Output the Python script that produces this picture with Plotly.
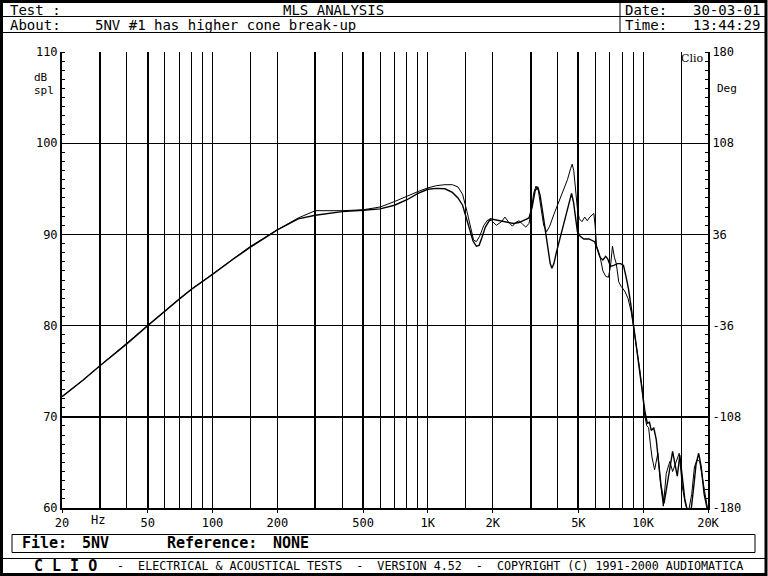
import plotly.graph_objects as go

# ---------------- data ----------------
freq_a = [20, 25, 30, 40, 50, 60, 70, 80, 100, 125, 150, 200, 250, 300, 400, 500, 600, 700, 800, 900,
          1000, 1100, 1200, 1300, 1380, 1450, 1520, 1580, 1630, 1680, 1740, 1820, 1900, 1980, 2080, 2200,
          2280, 2380, 2470, 2560, 2650, 2760, 2850, 2950, 3020, 3100, 3180, 3260, 3360, 3450, 3560, 3680,
          3850, 4050, 4250, 4450, 4600, 4680, 4760, 4850, 4950, 5050, 5200, 5350, 5500, 5650, 5800, 5900,
          5980, 6080, 6300, 6500, 6700, 6900, 7050, 7200, 7350, 7500, 7700, 7900, 8200, 8500, 8800, 9000,
          9300, 9600, 9900, 10150, 10400, 10600, 10800, 11000, 11300, 11700, 12000, 12400, 12800, 13300,
          13700, 14200, 14700, 15200, 15700, 16200, 16800, 17300, 17800, 18300, 18800, 19400, 20000]
spl_a = [72.2, 74.0, 75.6, 78.1, 80.0, 81.6, 82.9, 84.0, 85.7, 87.4, 88.7, 90.5, 91.8, 92.6, 92.6, 92.7,
         93.0, 93.6, 94.2, 94.7, 95.1, 95.35, 95.45, 95.45, 95.2, 94.4, 92.5, 90.6, 89.4, 89.2, 89.8, 91.0,
         91.6, 91.5, 91.0, 91.4, 91.9, 91.3, 90.9, 91.3, 91.5, 91.1, 90.8, 91.2, 92.5, 94.5, 95.3, 94.8,
         93.0, 91.0, 90.3, 90.9, 92.2, 93.5, 94.8, 96.0, 97.2, 97.7, 97.0, 95.0, 92.8, 91.7, 91.4, 91.9,
         91.5, 91.9, 92.1, 92.3, 91.0, 88.7, 87.6, 86.0, 85.4, 85.3, 86.5, 88.7, 87.5, 86.8, 84.8, 84.3,
         83.8, 83.0, 81.5, 80.0, 77.8, 75.5, 73.0, 70.2, 69.0, 68.8, 67.0, 65.5, 64.2, 66.0, 63.0, 60.2,
         63.8, 65.1, 64.0, 65.0, 66.0, 62.3, 60.5, 59.5, 61.5, 64.5, 65.3, 65.1, 63.4, 61.0, 59.6]

freq_b = [20, 25, 30, 40, 50, 60, 70, 80, 100, 125, 150, 200, 250, 300, 400, 500, 600, 700, 800, 900,
          1000, 1100, 1200, 1300, 1380, 1450, 1500, 1560, 1620, 1680, 1730, 1780, 1850, 1950, 2050, 2200,
          2350, 2500, 2650, 2800, 2950, 3050, 3150, 3240, 3320, 3420, 3520, 3620, 3700, 3770, 3850, 3950,
          4100, 4250, 4400, 4550, 4650, 4750, 4850, 4950, 5100, 5300, 5600, 5800, 5950, 6100, 6300, 6500,
          6700, 6850, 7050, 7300, 7600, 7850, 8100, 8300, 8550, 8800, 9050, 9300, 9600, 9900, 10200, 10450,
          10700, 10900, 11200, 11500, 11800, 12100, 12500, 12900, 13300, 13700, 14000, 14400, 14800, 15200,
          15600, 16100, 16700, 17200, 17600, 18100, 18600, 19200, 19700, 20000]
spl_b = [72.2, 74.0, 75.6, 78.0, 80.0, 81.6, 82.9, 84.0, 85.6, 87.3, 88.6, 90.5, 91.7, 92.1, 92.5, 92.65,
         92.8, 93.2, 93.8, 94.5, 94.95, 95.05, 95.0, 94.6, 94.0, 93.2, 92.0, 90.5, 89.3, 88.7, 88.8, 89.6,
         90.8, 91.7, 91.6, 91.4, 91.3, 91.2, 91.3, 91.6, 91.8, 93.0, 94.8, 95.2, 94.3, 92.3, 90.2, 88.0,
         86.8, 86.3, 86.8, 88.0, 89.5, 91.0, 92.5, 93.8, 94.5, 93.5, 91.5, 90.3, 89.8, 89.5, 89.5, 89.3,
         89.2, 88.5, 87.5, 87.2, 87.6, 87.3, 86.5, 86.6, 86.8, 86.8, 86.6, 85.5, 84.0, 82.0, 79.8, 77.5,
         74.8, 72.5, 70.5, 69.3, 69.4, 68.5, 68.8, 67.5, 64.5, 62.5, 60.5, 62.5, 64.8, 66.2, 65.0, 63.5,
         65.8, 63.5, 61.0, 59.5, 59.8, 62.5, 64.8, 66.0, 64.5, 61.5, 60.0, 59.5]

grid_thin_hz = [40, 60, 70, 80, 90, 100, 150, 200, 400, 600, 700, 800, 900, 1000, 1500, 2000,
                4000, 6000, 7000, 8000, 9000, 10000, 15000]
grid_thick_hz = [30, 50, 300, 500, 3000, 5000]
xtick_vals = [20, 50, 100, 200, 500, 1000, 2000, 5000, 10000, 20000]
xtick_text = ["20", "50", "100", "200", "500", "1K", "2K", "5K", "10K", "20K"]
ytick_vals = [60, 70, 80, 90, 100, 110]
ytick_text = ["60", "70", "80", "90", "100", "110"]
phase_vals = [-180, -108, -36, 36, 108, 180]
phase_text = ["-180", "-108", "-36", "36", "108", "180"]
thick_db = [70]

header_test = "MLS ANALYSIS"
header_about = "5NV #1 has higher cone break-up"
header_date = "30-03-01"
header_time = "13:44:29"
footer_file = "5NV"
footer_ref = "NONE"

# ---------------- geometry helpers ----------------
W, H = 768, 576
L, R, T, B = 62, 708, 52, 508


def px(x):
    return (x - L) / (R - L)


def py(y):
    return (B - y) / (B - T)


MONO = "DejaVu Sans Mono"
XR = [1.30103, 4.30103]

fig = go.Figure()
fig.add_trace(go.Scatter(x=freq_a, y=spl_a, mode="lines", line=dict(color="black", width=1.0),
                         hoverinfo="skip", showlegend=False))
fig.add_trace(go.Scatter(x=freq_b, y=spl_b, mode="lines", line=dict(color="black", width=1.4),
                         hoverinfo="skip", showlegend=False))
# invisible traces to activate overlay axes
fig.add_trace(go.Scatter(x=[1000], y=[0], xaxis="x2", yaxis="y2", mode="markers",
                         marker=dict(opacity=0), hoverinfo="skip", showlegend=False))
fig.add_trace(go.Scatter(x=[1000], y=[80], xaxis="x3", yaxis="y3", mode="markers",
                         marker=dict(opacity=0), hoverinfo="skip", showlegend=False))

fig.update_layout(
    width=W, height=H,
    margin=dict(l=L, r=W - R, t=T, b=H - B, autoexpand=False),
    paper_bgcolor="white", plot_bgcolor="white",
    font=dict(family=MONO, color="black", size=12),
    xaxis=dict(type="log", range=XR, tickvals=grid_thin_hz, showticklabels=False, ticks="",
               showgrid=True, gridcolor="black", gridwidth=1, zeroline=False,
               showline=True, linecolor="black", linewidth=2, anchor="y"),
    xaxis2=dict(type="log", range=XR, overlaying="x", anchor="y", tickvals=grid_thick_hz,
                showticklabels=False, ticks="", showgrid=True, gridcolor="black", gridwidth=2,
                showline=False, zeroline=False),
    xaxis3=dict(type="log", range=XR, overlaying="x", anchor="y", side="bottom",
                tickvals=xtick_vals, ticktext=xtick_text, ticks="outside", ticklen=4,
                tickwidth=1, tickcolor="black", showgrid=False, showline=False, zeroline=False,
                tickfont=dict(family=MONO, size=12, color="black")),
    yaxis=dict(range=[60, 110], tickvals=ytick_vals, ticktext=ytick_text, ticks="",
               showgrid=True, gridcolor="black", gridwidth=1, zeroline=False,
               showline=True, linecolor="black", linewidth=2, anchor="x",
               tickfont=dict(family=MONO, size=12, color="black"),
               minor=dict(dtick=1, tick0=60, ticks="inside", ticklen=3, tickwidth=1,
                          tickcolor="black", showgrid=False)),
    yaxis2=dict(range=[-180, 180], overlaying="y", side="right", anchor="x",
                tickvals=phase_vals, ticktext=phase_text, ticks="", showgrid=False,
                zeroline=False, showline=True, linecolor="black", linewidth=2,
                tickfont=dict(family=MONO, size=12, color="black"),
                minor=dict(dtick=7.2, tick0=-180, ticks="inside", ticklen=3, tickwidth=1,
                           tickcolor="black", showgrid=False)),
    yaxis3=dict(range=[60, 110], overlaying="y", anchor="x", tickvals=thick_db,
                showticklabels=False, ticks="", showgrid=True, gridcolor="black", gridwidth=2,
                showline=False, zeroline=False),
)

# ---------------- frame / header / footer shapes ----------------
shapes = []


def hline(y, x0=1, x1=767, w=1):
    shapes.append(dict(type="line", xref="paper", yref="paper", x0=px(x0), x1=px(x1),
                       y0=py(y), y1=py(y), line=dict(color="black", width=w)))


def vline(x, y0, y1, w=1):
    shapes.append(dict(type="line", xref="paper", yref="paper", x0=px(x), x1=px(x),
                       y0=py(y0), y1=py(y1), line=dict(color="black", width=w)))


# outer frame
shapes.append(dict(type="rect", xref="paper", yref="paper", x0=px(1.5), x1=px(766),
                   y0=py(1.5), y1=py(574.5), line=dict(color="black", width=3)))
hline(16.5)
hline(32.5)
vline(620, 1, 32.5)
# footer
shapes.append(dict(type="rect", xref="paper", yref="paper", x0=px(12), x1=px(755),
                   y0=py(534.5), y1=py(552.5), line=dict(color="black", width=1)))
hline(558.5)
fig.update_layout(shapes=shapes)

ann = []


def text(x, y, s, anchor="left", size=14, bold=False, family=MONO):
    ann.append(dict(xref="paper", yref="paper", x=px(x), y=py(y), text=(f"<b>{s}</b>" if bold else s),
                    showarrow=False, xanchor=anchor, yanchor="middle", borderpad=0,
                    font=dict(family=family, size=size, color="black")))


text(9, 9.5, "Test :", size=14)
text(333, 9.5, header_test, anchor="center", size=14)
text(624, 9.5, "Date:", size=14)
text(761, 9.5, header_date, anchor="right", size=14)
text(9, 25, "About:", size=14)
text(94, 25, header_about, size=14)
text(624, 25, "Time:", size=14)
text(761, 25, header_time, anchor="right", size=14)

text(33, 78, "dB", size=11)
text(33, 90, "spl", size=11)
text(716, 89, "Deg", size=11)
text(704, 58, "Clio", anchor="right", size=11, family="DejaVu Serif")
text(90, 520, "Hz", size=12)

text(21, 543, "File:", size=15, bold=True)
text(81, 543, footer_file, size=15, bold=True)
text(166, 543, "Reference:", size=15, bold=True)
text(272, 543, footer_ref, size=15, bold=True)

text(33, 566, "C L I O", size=15, bold=True)
text(116, 566, "-  ELECTRICAL &amp; ACOUSTICAL TESTS  -  VERSION 4.52  -  COPYRIGHT (C) 1991-2000 AUDIOMATICA",
     anchor="left", size=11.7)
fig.update_layout(annotations=ann)

fig.write_html("out.html", config={"displayModeBar": False},
               post_script="document.body.style.margin='0';document.body.style.overflow='hidden';")
